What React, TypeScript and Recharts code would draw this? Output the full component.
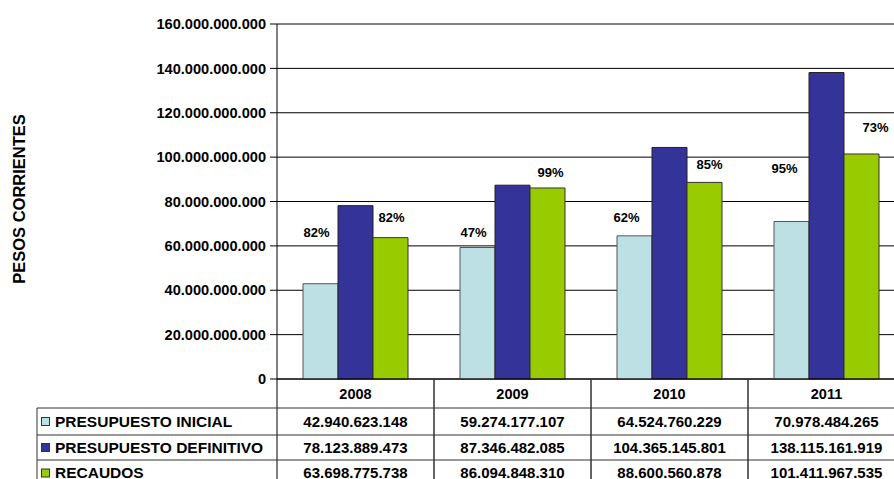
import React from 'react';
import { BarChart, Bar, XAxis, YAxis, CartesianGrid, LabelList } from 'recharts';

const years = ['2008', '2009', '2010', '2011'];
const presupuestoInicial = [42940623148, 59274177107, 64524760229, 70978484265];
const presupuestoDefinitivo = [78123889473, 87346482085, 104365145801, 138115161919];
const recaudos = [63698775738, 86094848310, 88600560878, 101411967535];
const pctInicial = ['82%', '47%', '62%', '95%'];
const pctRecaudos = ['82%', '99%', '85%', '73%'];
const yTicks = [0, 20e9, 40e9, 60e9, 80e9, 100e9, 120e9, 140e9, 160e9];

const seriesNames = ['PRESUPUESTO INICIAL', 'PRESUPUESTO DEFINITIVO', 'RECAUDOS'];
const seriesValues = [presupuestoInicial, presupuestoDefinitivo, recaudos];
const colors = ['#BCE0E4', '#333399', '#99CC00'];

// the % labels were dragged by hand in the original, so they sit at fixed levels
const labelLevelInicial = [66e9, 66e9, 73e9, 95e9];
const labelLevelRecaudos = [73e9, 93e9, 96.5e9, 113.3e9];
const labelDxInicial = [-4, -4, -8, -7];
const labelDxRecaudos = [1, 3, 5, 14];

const data = years.map((y, i) => ({
  year: y,
  inicial: presupuestoInicial[i],
  definitivo: presupuestoDefinitivo[i],
  recaudos: recaudos[i],
}));

const FONT = '"Liberation Sans", Arial, sans-serif';
const W = 910;
const H = 492;
const TOP = 24;
const XH = 113;
const BASE = H - XH; // 379
const LEFT = 277;
const RIGHT_MARGIN = 5;
const CAT_W = (W - LEFT - RIGHT_MARGIN) / years.length;
const MAX = 160e9;

const rowLines = [408, 435, 460];
const rowCenters = [421.5, 447.5, 473];
const gridColor = '#333';

const fmt = (v: number) => String(Math.round(v)).replace(/\B(?=(\d{3})+(?!\d))/g, '.');

const levelToY = (v: number) => BASE - (v / MAX) * (BASE - TOP);

function pctLabel(texts: string[], levels: number[], dxs: number[]) {
  return (props: any) => {
    const vb = props.viewBox || props;
    const x = Number(props.x ?? vb.x);
    const width = Number(props.width ?? vb.width);
    const i = props.index;
    return (
      <text
        x={x + width / 2 + dxs[i]}
        y={levelToY(levels[i])}
        dy="0.35em"
        textAnchor="middle"
        fontFamily={FONT}
        fontWeight={700}
        fontSize={13}
        fill="#000"
      >
        {texts[i]}
      </text>
    );
  };
}

function TableTick(props: any) {
  const { x, payload, index } = props;
  const cx = Number(x);
  const left = cx - CAT_W / 2;
  const right = cx + CAT_W / 2;
  const txt = { fontFamily: FONT, fontWeight: 700, fill: '#000' };
  return (
    <g>
      <line x1={left} y1={BASE} x2={left} y2={H} stroke={index === 0 ? '#000' : gridColor} />
      <line x1={right} y1={BASE} x2={right} y2={H} stroke={gridColor} />
      <text x={cx} y={394} dy="0.35em" textAnchor="middle" fontSize={14.5} {...txt}>
        {payload.value}
      </text>
      {rowLines.map((ly) => (
        <line key={ly} x1={left} y1={ly} x2={right} y2={ly} stroke={gridColor} />
      ))}
      {seriesValues.map((vals, r) => (
        <text key={r} x={cx} y={rowCenters[r]} dy="0.35em" textAnchor="middle" fontSize={15} {...txt}>
          {fmt(vals[index])}
        </text>
      ))}
      {index === 0 && (
        <g>
          <line x1={37} y1={rowLines[0]} x2={37} y2={H} stroke={gridColor} />
          {rowLines.map((ly) => (
            <line key={ly} x1={37} y1={ly} x2={left} y2={ly} stroke={gridColor} />
          ))}
          {seriesNames.map((n, r) => (
            <g key={n}>
              <rect x={41.5} y={rowCenters[r] - 4} width={8} height={8} fill={colors[r]} stroke="#333" />
              <text x={55} y={rowCenters[r]} dy="0.35em" textAnchor="start" fontSize={15.5} {...txt}>
                {n}
              </text>
            </g>
          ))}
        </g>
      )}
    </g>
  );
}

const axisTitle = () => (
  <text
    x={19}
    y={199}
    dy="0.35em"
    transform="rotate(-90 19 199)"
    textAnchor="middle"
    fontFamily={FONT}
    fontWeight={700}
    fontSize={16.5}
    fill="#000"
  >
    PESOS CORRIENTES
  </text>
);

export default function App() {
  return (
    <div
      style={{
        position: 'fixed',
        left: 0,
        top: 0,
        width: 894,
        height: 479,
        overflow: 'hidden',
        background: '#fff',
      }}
    >
      <BarChart
        width={W}
        height={H}
        data={data}
        margin={{ top: TOP, right: RIGHT_MARGIN, left: 0, bottom: 0 }}
        barGap={0}
        barSize={35}
      >
        <CartesianGrid vertical={false} stroke="#000" strokeOpacity={1} />
        <XAxis
          dataKey="year"
          height={XH}
          axisLine={{ stroke: '#000' }}
          tickLine={false}
          interval={0}
          tick={<TableTick />}
        />
        <YAxis
          width={LEFT}
          domain={[0, MAX]}
          ticks={yTicks}
          interval={0}
          axisLine={{ stroke: '#000' }}
          tickLine={{ stroke: '#000' }}
          tickSize={7}
          tickMargin={4}
          tickFormatter={fmt}
          tick={{ fill: '#000', fontSize: 14.6, fontWeight: 700, fontFamily: FONT }}
          label={axisTitle}
        />
        <Bar dataKey="inicial" fill={colors[0]} stroke="#555" isAnimationActive={false}>
          <LabelList dataKey="inicial" content={pctLabel(pctInicial, labelLevelInicial, labelDxInicial)} />
        </Bar>
        <Bar dataKey="definitivo" fill={colors[1]} stroke="#222" isAnimationActive={false} />
        <Bar dataKey="recaudos" fill={colors[2]} stroke="#333" isAnimationActive={false}>
          <LabelList dataKey="recaudos" content={pctLabel(pctRecaudos, labelLevelRecaudos, labelDxRecaudos)} />
        </Bar>
      </BarChart>
    </div>
  );
}
